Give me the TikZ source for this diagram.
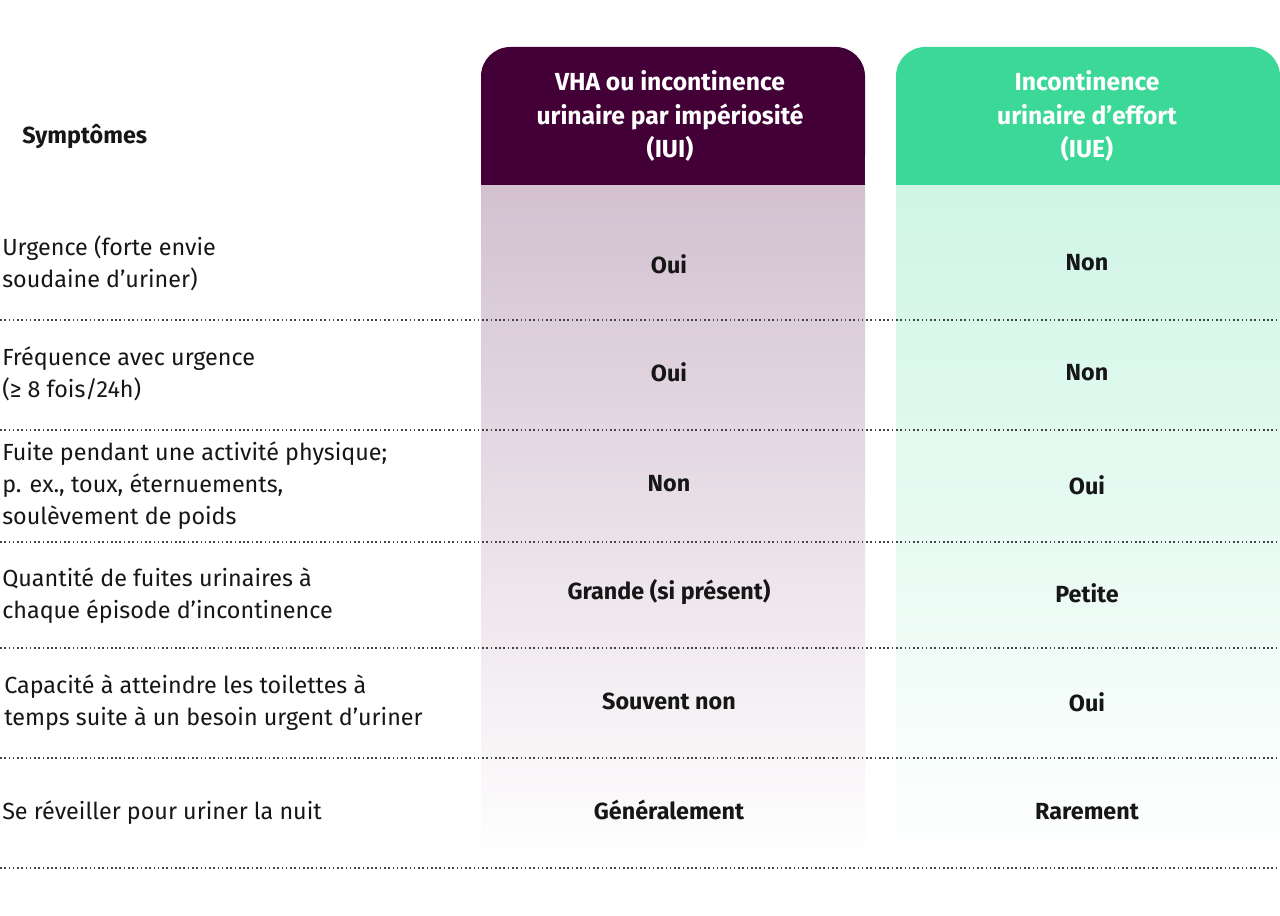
\documentclass[tikz,border=0pt]{standalone}
\usepackage{fontspec}
\setmainfont{Fira Sans}
\definecolor{purp}{HTML}{430037}
\definecolor{purpl}{HTML}{D3C1D0}
\definecolor{grn}{HTML}{3BD898}
\definecolor{grnl}{HTML}{CFF5E5}
\definecolor{txt}{HTML}{161616}
\begin{document}
\begin{tikzpicture}[x=0.75pt,y=-0.75pt,
  lbl/.style={anchor=west,align=left,font=\fontsize{17.5}{24}\selectfont,text=txt,inner sep=0pt},
  val/.style={anchor=center,align=center,font=\fontsize{17.5}{24}\selectfont\bfseries,text=txt,inner sep=0pt},
  hdr/.style={anchor=center,align=center,font=\fontsize{18.5}{25}\selectfont\bfseries,text=white,inner sep=0pt},
  sep/.style={dotted,line width=1.2pt,color=txt!80}]
\useasboundingbox (0,0) rectangle (1280,916);
\fill[white] (0,0) rectangle (1280,916);
% bodies
\shade[top color=purpl,bottom color=white] (481,185) rectangle (865,862);
\shade[top color=grnl,bottom color=white] (896,185) rectangle (1280,862);
% headers
\fill[purp,rounded corners=22pt] (481,47) rectangle (865,185);
\fill[purp] (481,140) rectangle (865,185);
\fill[grn,rounded corners=22pt] (896,47) rectangle (1280,185);
\fill[grn] (896,140) rectangle (1280,185);
\node[hdr] (h1) at (670,116) {VHA ou incontinence\\urinaire par impériosité\\(IUI)};
\node[hdr] (h2) at (1087,116) {Incontinence\\urinaire d'effort\\(IUE)};
\node[lbl,font=\fontsize{17.5}{24}\selectfont\bfseries] (hs) at (22,137) {Symptômes};
% separators
\foreach \y in {320,430,542,648,758,868} \draw[sep] (0,\y) -- (1280,\y);
% rows
\node[lbl] (r1) at (2,263) {Urgence (forte envie\\soudaine d'uriner)};
\node[val] (a1) at (669,264) {Oui};
\node[val] (b1) at (1087,263) {Non};
\node[lbl] (r2) at (2,374) {Fréquence avec urgence\\(≥ 8 fois/24h)};
\node[val] (a2) at (669,372) {Oui};
\node[val] (b2) at (1087,373) {Non};
\node[lbl] (r3) at (2,486) {Fuite pendant une activité physique;\\p. ex., toux, éternuements,\\soulèvement de poids};
\node[val] (a3) at (669,484) {Non};
\node[val] (b3) at (1087,485) {Oui};
\node[lbl] (r4) at (2,596) {Quantité de fuites urinaires à\\chaque épisode d'incontinence};
\node[val] (a4) at (669,592) {Grande (si présent)};
\node[val] (b4) at (1087,593) {Petite};
\node[lbl] (r5) at (4,703) {Capacité à atteindre les toilettes à\\temps suite à un besoin urgent d'uriner};
\node[val] (a5) at (669,701) {Souvent non};
\node[val] (b5) at (1087,702) {Oui};
\node[lbl] (r6) at (2,813) {Se réveiller pour uriner la nuit};
\node[val] (a6) at (669,810) {Généralement};
\node[val] (b6) at (1087,812) {Rarement};
\end{tikzpicture}
\end{document}
